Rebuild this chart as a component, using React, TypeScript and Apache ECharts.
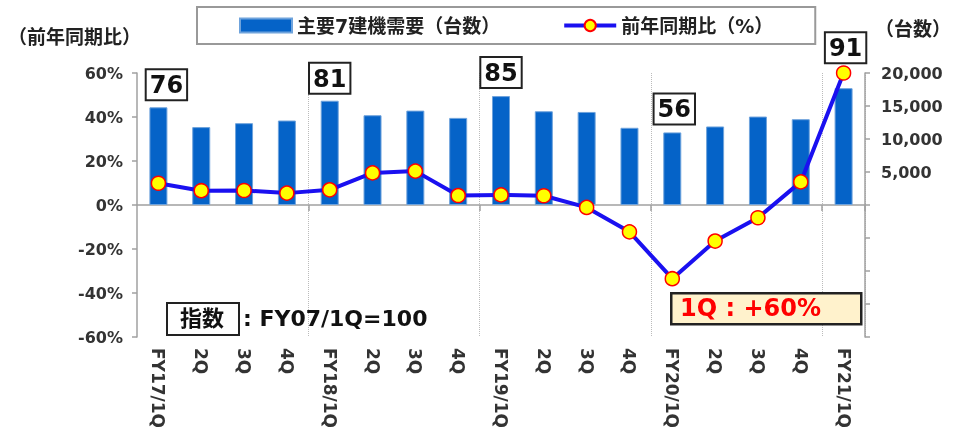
import React, { useEffect, useRef } from "react";
import * as echarts from "echarts";

const categories = ["FY17/1Q", "2Q", "3Q", "4Q", "FY18/1Q", "2Q", "3Q", "4Q", "FY19/1Q", "2Q", "3Q", "4Q", "FY20/1Q", "2Q", "3Q", "4Q", "FY21/1Q"];
const demandUnits = [14800, 11800, 12400, 12800, 15800, 13600, 14300, 13200, 16500, 14200, 14100, 11700, 11000, 11900, 13400, 13000, 17700];
const yoyPercent = [9.9, 6.5, 6.6, 5.4, 6.9, 14.6, 15.4, 4.3, 4.6, 4.2, -1.1, -12.2, -33.5, -16.4, -5.8, 10.5, 60];
const indexPositions = [0, 4, 8, 12, 16];
const indexLabels = ["76", "81", "85", "56", "91"];
const barName = "主要7建機需要（台数）";
const lineName = "前年同期比（%）";

const FONT = "'DejaVu Sans', 'Noto Sans CJK JP', sans-serif";

export default function App() {
  const ref = useRef<HTMLDivElement>(null);
  useEffect(() => {
    if (!ref.current) return;
    const chart = echarts.init(ref.current, null, { renderer: "svg" });
    const labelOffsets: Record<number, { dist: number; off: number[] }> = {
      0: { dist: 8, off: [8, 0] },
      4: { dist: 8, off: [0, 0] },
      8: { dist: 9, off: [0, 0] },
      12: { dist: 9, off: [2, 0] },
      16: { dist: 26, off: [2, 0] },
    };
    const barData = demandUnits.map((v, i) => {
      const k = indexPositions.indexOf(i);
      if (k < 0) return v;
      const o = labelOffsets[i] || { dist: 8, off: [0, 0] };
      return {
        value: v,
        label: {
          show: true,
          position: "top",
          distance: o.dist,
          offset: o.off,
          formatter: indexLabels[k],
          fontFamily: FONT,
          fontWeight: "bold",
          fontSize: 24,
          lineHeight: 26,
          color: "#111",
          backgroundColor: "#fff",
          borderColor: "#222",
          borderWidth: 2,
          padding: [2, 3, 1, 3],
        },
      };
    });
    const yearTick = (index: number) => index % 4 === 0 && index > 0;
    chart.setOption({
      animation: false,
      textStyle: { fontFamily: FONT },
      grid: { left: 137, right: 85, top: 73, bottom: 102, containLabel: false },
      legend: {
        left: 197,
        top: 7,
        padding: [9, 42, 9, 42],
        itemGap: 62,
        itemWidth: 52,
        itemHeight: 14,
        borderColor: "#999",
        borderWidth: 2,
        data: [
          { name: barName, icon: "rect" },
          { name: lineName, lineStyle: { width: 4, color: "#1a10f0" } },
        ],
        textStyle: { fontFamily: FONT, fontWeight: "bold", fontSize: 19, color: "#222" },
      },
      xAxis: [
        {
          type: "category",
          data: categories,
          position: "bottom",
          axisLine: { show: false, onZero: false },
          axisTick: { show: false },
          axisLabel: {
            rotate: -90,
            margin: 11,
            interval: 0,
            fontFamily: FONT,
            fontWeight: "bold",
            fontSize: 17,
            color: "#333",
          },
          splitLine: {
            show: true,
            interval: (index: number) => yearTick(index),
            lineStyle: { type: "dotted", color: "#bbb", width: 1 },
          },
        },
        {
          type: "category",
          data: categories,
          position: "bottom",
          axisLine: { show: true, onZero: true, lineStyle: { color: "#a0a0a0", width: 1.5 } },
          axisTick: { show: true, length: 6, interval: (index: number) => yearTick(index), lineStyle: { color: "#a0a0a0", width: 1.5 } },
          axisLabel: { show: false },
          splitLine: { show: false },
        },
      ],
      yAxis: [
        {
          type: "value",
          min: -60,
          max: 60,
          interval: 20,
          position: "left",
          name: "（前年同期比）",
          nameLocation: "end",
          nameGap: 27,
          nameTextStyle: { fontFamily: FONT, fontWeight: "bold", fontSize: 19, color: "#222", align: "right", padding: [0, -4, 0, 0] },
          axisLine: { show: true, lineStyle: { color: "#a0a0a0", width: 1.5 } },
          axisTick: { show: true, length: 5, lineStyle: { color: "#a0a0a0", width: 1.5 } },
          axisLabel: {
            margin: 14,
            formatter: (v: number) => v + "%",
            fontFamily: FONT,
            fontWeight: "bold",
            fontSize: 16,
            color: "#333",
          },
          splitLine: { show: false },
        },
        {
          type: "value",
          min: -20000,
          max: 20000,
          interval: 5000,
          position: "right",
          name: "（台数）",
          nameLocation: "end",
          nameGap: 35,
          nameTextStyle: { fontFamily: FONT, fontWeight: "bold", fontSize: 19, color: "#222", align: "left", padding: [0, 0, 0, 10] },
          axisLine: { show: true, lineStyle: { color: "#a0a0a0", width: 1.5 } },
          axisTick: { show: true, length: 5, lineStyle: { color: "#a0a0a0", width: 1.5 } },
          axisLabel: {
            margin: 16,
            formatter: (v: number) => (v > 0 ? v.toLocaleString("en-US") : ""),
            fontFamily: FONT,
            fontWeight: "bold",
            fontSize: 16,
            color: "#333",
          },
          splitLine: { show: false },
        },
      ],
      series: [
        {
          name: barName,
          type: "bar",
          xAxisIndex: 0,
          yAxisIndex: 1,
          barWidth: 18,
          data: barData,
          itemStyle: { color: "#0563C8", borderColor: "#6fa3dc", borderWidth: 1 },
          z: 2,
        },
        {
          name: lineName,
          type: "line",
          xAxisIndex: 0,
          yAxisIndex: 0,
          data: yoyPercent,
          symbol: "circle",
          symbolSize: 14,
          lineStyle: { color: "#1a10f0", width: 4 },
          itemStyle: { color: "#ffff00", borderColor: "#ff0000", borderWidth: 1.5 },
          z: 3,
        },
      ],
      graphic: [
        {
          type: "rect",
          left: 166,
          top: 302,
          shape: { width: 72, height: 32 },
          style: { fill: "#fff", stroke: "#222", lineWidth: 2 },
          z: 10,
        },
        {
          type: "text",
          x: 202,
          y: 318,
          style: {
            text: "指数",
            font: "bold 22px 'DejaVu Sans', 'Noto Sans CJK JP', sans-serif",
            fill: "#111",
            align: "center",
            verticalAlign: "middle",
          },
          z: 11,
        },
        {
          type: "text",
          x: 243,
          y: 318,
          style: {
            text: ": FY07/1Q=100",
            font: "bold 22px 'DejaVu Sans', 'Noto Sans CJK JP', sans-serif",
            fill: "#111",
            align: "left",
            verticalAlign: "middle",
          },
          z: 11,
        },
        {
          type: "rect",
          left: 670,
          top: 292,
          shape: { width: 190, height: 31 },
          style: { fill: "#FFF2CC", stroke: "#222", lineWidth: 2.5 },
          z: 10,
        },
        {
          type: "text",
          x: 680,
          y: 308,
          style: {
            text: "1Q : +60%",
            font: "bold 24px 'DejaVu Sans', 'Noto Sans CJK JP', sans-serif",
            fill: "#ff0000",
            align: "left",
            verticalAlign: "middle",
          },
          z: 11,
        },
      ],
    });
    return () => chart.dispose();
  }, []);
  return <div ref={ref} style={{ position: "fixed", left: 0, top: 0, width: 954, height: 439 }} />;
}
